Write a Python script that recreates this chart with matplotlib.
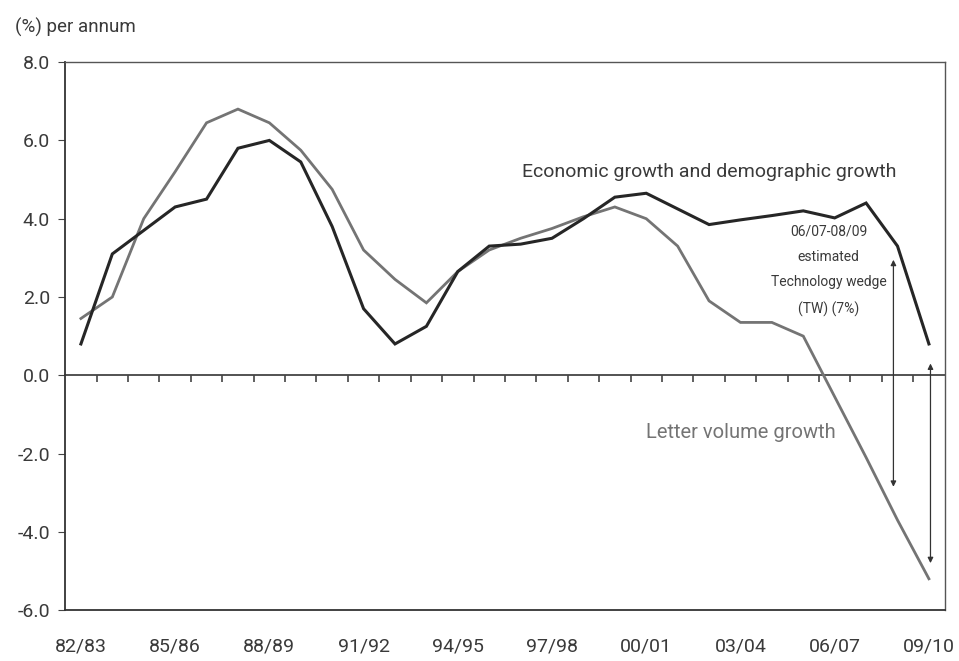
import numpy as np
import matplotlib
matplotlib.use("Agg")
import matplotlib.pyplot as plt

# years 82/83 ... 09/10
years = [f"{y % 100:02d}/{(y + 1) % 100:02d}" for y in range(1982, 2010)]
tick_years = years[::3]

econ_growth = [0.8, 3.1, 3.7, 4.3, 4.5, 5.8, 6.0, 5.45, 3.8, 1.7,
               0.8, 1.25, 2.65, 3.3, 3.35, 3.5, 4.0, 4.55, 4.65, 4.25,
               3.85, 3.97, 4.08, 4.2, 4.02, 4.4, 3.3, 0.8]
letter_growth = [1.45, 2.0, 4.0, 5.2, 6.45, 6.8, 6.45, 5.75, 4.75, 3.2,
                 2.45, 1.85, 2.65, 3.2, 3.5, 3.75, 4.05, 4.3, 4.0, 3.3,
                 1.9, 1.35, 1.35, 1.0, -0.55, -2.1, -3.7, -5.2]

# technology wedge arrows (x index, top, bottom)
wedge_x = [25.87, 27.05]
wedge_top = [2.95, 0.3]
wedge_bottom = [-2.85, -4.8]

plt.rcParams['font.family'] = ['Roboto', 'DejaVu Sans']
text_col = '#3a3a3a'

fig = plt.figure(figsize=(9.59, 6.61), dpi=100)
ax = fig.add_axes([0.068, 0.077, 0.917, 0.829])

x = np.arange(len(years))
ax.plot(x, letter_growth, color='#747474', lw=2.0, solid_joinstyle='miter')
ax.plot(x, econ_growth, color='#262626', lw=2.2, solid_joinstyle='miter')

ax.set_xlim(-0.5, 27.5)
ax.set_ylim(-6, 8)

ax.set_yticks(np.arange(-6, 9, 2))
ax.set_yticklabels([f"{v:.1f}" for v in np.arange(-6, 9, 2)])
ax.set_xticks(x[::3])
ax.set_xticklabels(tick_years)
ax.tick_params(axis='x', length=0, pad=20, labelsize=14, labelcolor=text_col)
ax.tick_params(axis='y', length=5, pad=6, labelsize=14, labelcolor=text_col,
               color='#444444')

for s in ['left', 'bottom']:
    ax.spines[s].set_color('#333333')
    ax.spines[s].set_linewidth(1.3)
for s in ['top', 'right']:
    ax.spines[s].set_color('#555555')
    ax.spines[s].set_linewidth(1.0)

# zero line with minor year ticks
zero_ax = ax.secondary_xaxis(6 / 14)
zero_ax.set_xticks(x[:-1] + 0.5)
zero_ax.set_xticklabels([])
zero_ax.tick_params(direction='out', length=5, width=1.2, color='#444444')
zero_ax.spines['bottom'].set_color('#444444')
zero_ax.spines['bottom'].set_linewidth(1.3)

# wedge arrows
for wx, t, b in zip(wedge_x, wedge_top, wedge_bottom):
    ax.annotate('', xy=(wx, b), xytext=(wx, t),
                arrowprops=dict(arrowstyle='<|-|>', color='#333333', lw=0.9,
                                mutation_scale=8, shrinkA=0, shrinkB=0))

ax.text(20.0, 5.2, 'Economic growth and demographic growth', fontsize=14,
        color=text_col, ha='center', va='center')
ax.text(21.0, -1.45, 'Letter volume growth', fontsize=14.5,
        color='#747474', ha='center', va='center')
ax.text(23.8, 2.67, '06/07-08/09\nestimated\nTechnology wedge\n(TW) (7%)',
        fontsize=10, color=text_col, ha='center', va='center',
        linespacing=2.05)

fig.text(0.016, 0.958, '(%) per annum', fontsize=13.5, color=text_col,
         ha='left', va='center')

fig.savefig('out.png', dpi=100)
